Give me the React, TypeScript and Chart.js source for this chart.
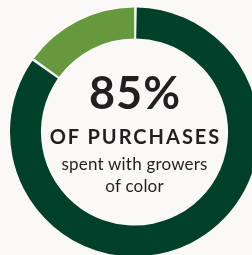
import React, { useEffect, useRef } from "react";
import { Chart, registerables } from "chart.js";

Chart.register(...registerables);

const categories = ["Growers of color", "Other growers"];
const values = [85, 15];
const colors = ["#00402B", "#66983D"];
const headline = "85%";
const subhead = "OF PURCHASES";
const captionLines = ["spent with growers", "of color"];

const BG = "#FAF9F7";
const TEXT = "#231F20";
const FONT = "Lato, 'Noto Sans', sans-serif";

export default function App() {
  const ref = useRef<HTMLCanvasElement | null>(null);

  useEffect(() => {
    document.body.style.background = BG;
    const canvas = ref.current;
    if (!canvas) return;
    const chart = new Chart(canvas, {
      type: "doughnut",
      data: {
        labels: categories,
        datasets: [
          {
            data: values,
            backgroundColor: colors,
            borderWidth: 0,
            spacing: 1.5,
          },
        ],
      },
      options: {
        responsive: false,
        animation: false,
        cutout: "75%",
        layout: { padding: 7.5 },
        plugins: {
          legend: { display: false },
          tooltip: { enabled: false },
        },
      },
    });
    return () => chart.destroy();
  }, []);

  const line = (
    text: string,
    fs: number,
    baseline: number,
    weight: number,
    spacing: number
  ): React.ReactElement => (
    <div
      key={text}
      style={{
        position: "absolute",
        left: 0,
        width: 269,
        top: baseline - 0.987 * fs,
        fontSize: fs,
        lineHeight: `${1.2 * fs}px`,
        fontWeight: weight,
        fontFamily: FONT,
        color: TEXT,
        textAlign: "center",
        whiteSpace: "nowrap",
        letterSpacing: spacing,
        paddingLeft: spacing,
        boxSizing: "border-box",
      }}
    >
      {text}
    </div>
  );

  return (
    <div
      style={{
        position: "fixed",
        left: 0,
        top: 0,
        width: 269,
        height: 264,
        background: BG,
        overflow: "hidden",
      }}
    >
      <canvas
        ref={ref}
        width={269}
        height={264}
        style={{ width: 269, height: 264, display: "block" }}
      />
      {line(headline, 45, 109.5, 700, 1)}
      {line(subhead, 20, 143.5, 700, 2)}
      {line(captionLines[0], 17, 170.7, 400, 0.2)}
      {line(captionLines[1], 17, 192.7, 400, 0.2)}
    </div>
  );
}
